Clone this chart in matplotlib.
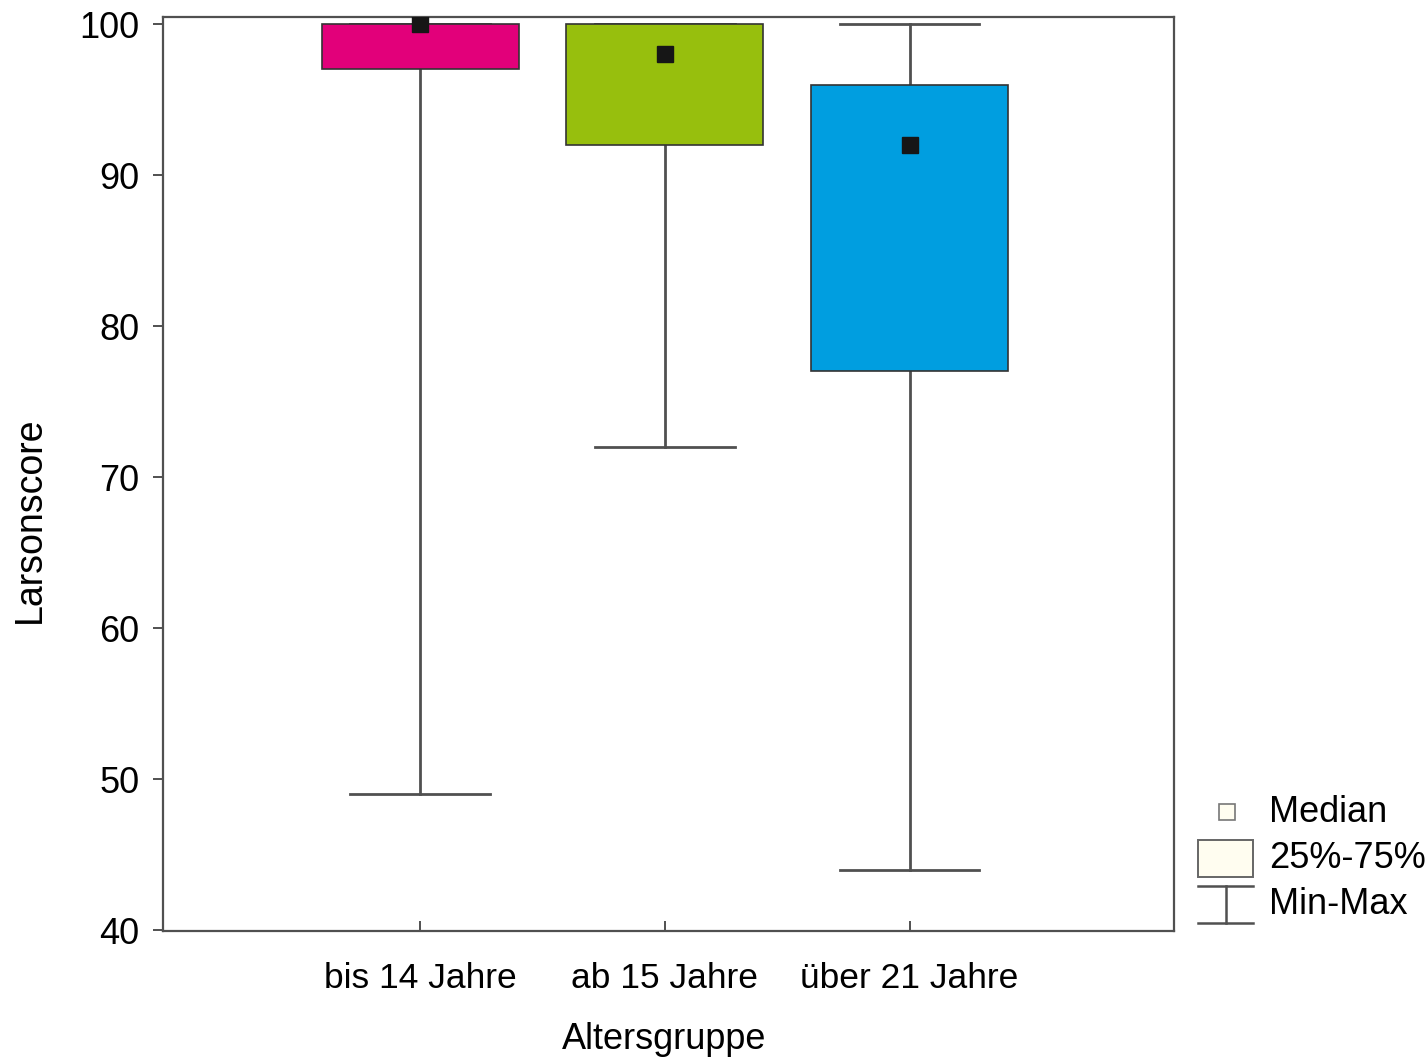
import matplotlib
matplotlib.use("Agg")
import matplotlib.pyplot as plt
import matplotlib.patches as mpatches
from matplotlib.lines import Line2D

plt.rcParams['font.family'] = ['Liberation Sans', 'DejaVu Sans']

# data
groups = ["bis 14 Jahre", "ab 15 Jahre", "über 21 Jahre"]
medians = [100, 98, 92]
q1 = [97, 92, 77]
q3 = [100, 100, 96]
mins = [49, 72, 44]
maxs = [100, 100, 100]
colors = ["#e2007a", "#97bf0d", "#009ee0"]

positions = [1, 2, 3]
line_col = "#505050"

stats = []
for g, m, a, b, lo, hi in zip(groups, medians, q1, q3, mins, maxs):
    stats.append(dict(label=g, med=m, q1=a, q3=b, whislo=lo, whishi=hi, fliers=[]))

fig = plt.figure(figsize=(14.27, 10.6), dpi=100)
ax = fig.add_axes([163/1427, 129/1060, 1011/1427, 914/1060])

bp = ax.bxp(stats, positions=positions, widths=0.805, capwidths=0.57,
            showfliers=False, patch_artist=True,
            boxprops=dict(edgecolor="#333333", linewidth=1.2, zorder=2),
            whiskerprops=dict(color=line_col, linewidth=2, zorder=1),
            capprops=dict(color=line_col, linewidth=2, zorder=1),
            medianprops=dict(visible=False))
for patch, c in zip(bp['boxes'], colors):
    patch.set_facecolor(c)

ax.plot(positions, medians, linestyle="none", marker="s", markersize=11.5,
        color="#161616", zorder=3)

ax.set_xlim(-0.05, 4.08)
ax.set_ylim(39.95, 100.47)
ax.set_yticks([40, 50, 60, 70, 80, 90, 100])
ax.set_xticks(positions)
ax.set_xticklabels(groups)

for s in ax.spines.values():
    s.set_color(line_col)
    s.set_linewidth(1.6)

ax.tick_params(axis='x', direction='in', length=7, width=1.4, color=line_col,
               labelsize=25.5, pad=22)
ax.tick_params(axis='y', direction='out', length=7, width=1.4, color=line_col,
               labelsize=26, pad=10)

ax.set_xlabel("Altersgruppe", fontsize=26)
ax.set_ylabel("Larsonscore", fontsize=27)
ax.xaxis.set_label_coords(0.496, -0.100)
ax.yaxis.set_label_coords(-0.132, 0.45)
ax.yaxis.label.set_va('center')

# legend drawn by hand to the right of the axes
def fx(px):
    return px / 1427

def fy(py):
    return 1 - py / 1060

fig.add_artist(mpatches.Rectangle((fx(1219), fy(820)), fx(16), 16/1060,
                                  facecolor="#fffdf0", edgecolor="#777777",
                                  linewidth=1.2))
fig.add_artist(mpatches.Rectangle((fx(1198), fy(877)), fx(55), 37/1060,
                                  facecolor="#fffdf0", edgecolor="#666666",
                                  linewidth=1.4))
fig.add_artist(Line2D([fx(1198), fx(1253)], [fy(886), fy(886)], color=line_col, lw=1.8))
fig.add_artist(Line2D([fx(1198), fx(1253)], [fy(923), fy(923)], color=line_col, lw=1.8))
fig.add_artist(Line2D([fx(1226), fx(1226)], [fy(886), fy(923)], color=line_col, lw=1.8))

for txt, py in [("Median", 812), ("25%-75%", 858), ("Min-Max", 905)]:
    fig.text(fx(1269), fy(py), txt, fontsize=26, va='center', ha='left')

fig.savefig("out.png", dpi=100)
